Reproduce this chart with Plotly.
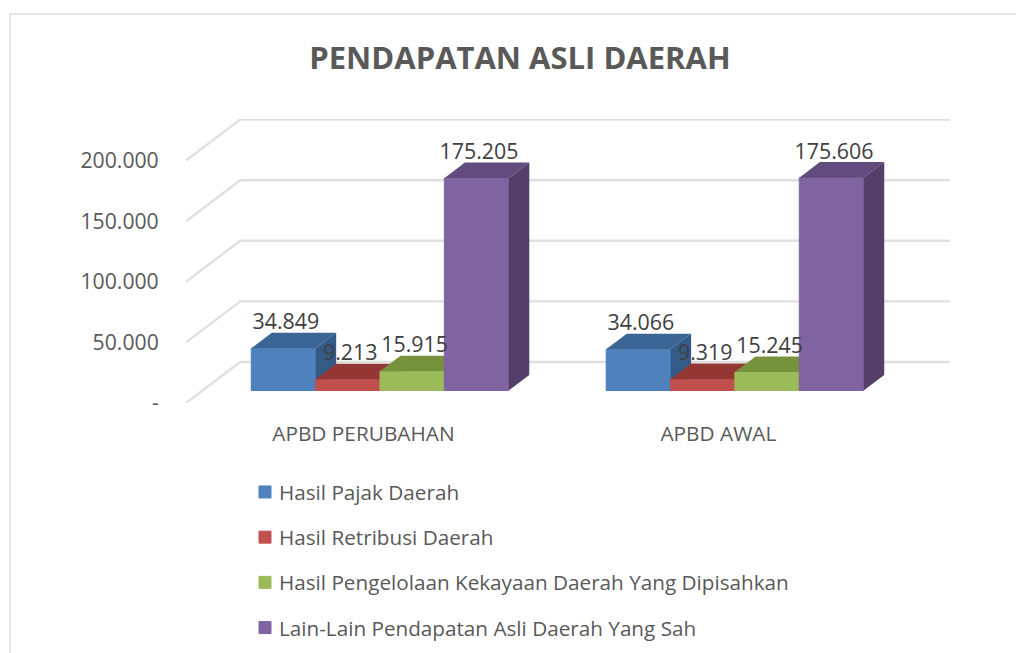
import plotly.graph_objects as go

TITLE = "PENDAPATAN ASLI DAERAH"
categories = ["APBD PERUBAHAN", "APBD AWAL"]
series_names = [
    "Hasil Pajak Daerah",
    "Hasil Retribusi Daerah",
    "Hasil Pengelolaan Kekayaan Daerah Yang Dipisahkan",
    "Lain-Lain Pendapatan Asli Daerah Yang Sah",
]
pajak = [34849, 34066]
retribusi = [9213, 9319]
kekayaan = [15915, 15245]
lain = [175205, 175606]
series_values = [pajak, retribusi, kekayaan, lain]

y_ticks = [0, 50000, 100000, 150000, 200000]
y_labels = ["-", "50.000", "100.000", "150.000", "200.000"]

front_colors = ["#4F81BD", "#C0504D", "#9BBB59", "#8064A2"]
top_colors = ["#3B6595", "#943634", "#76923C", "#624B7D"]
side_colors = ["#345A87", "#7F2E2C", "#66803A", "#533F6A"]

TEXT = "#595959"
LABEL = "#404040"
GRID = "#E0E0E0"
FONT = "Open Sans"

W, H = 1016, 653
L, R, T, B = 186, 950, 119, 403          # plot box in the page
CAT_PX = 354.0                            # pixels per category
VAL_PX = 1.212 / 1000.0                   # pixels per value unit
WALL_X = 54 / CAT_PX                      # floor depth in category units
WALL_Y = 41 / VAL_PX                      # floor depth in value units
x_range = [-0.5, 1.5 + WALL_X]
y_range = [0, (B - T) / VAL_PX]

BAR_W = 64.2 / CAT_PX
FRONT_FRAC = 0.305                        # where the bars' front sits on the floor
DEPTH_FRAC = 0.38                         # how deep the bars are
bx0 = WALL_X * FRONT_FRAC
by0 = WALL_Y * FRONT_FRAC
bdx = WALL_X * DEPTH_FRAC
bdy = WALL_Y * DEPTH_FRAC

fig = go.Figure()

# back wall and side wall gridlines
gx, gy = [], []
for v in y_ticks:
    gx += [x_range[0], x_range[0] + WALL_X, x_range[1], None]
    gy += [v, v + WALL_Y, v + WALL_Y, None]
fig.add_trace(go.Scatter(x=gx, y=gy, mode="lines", showlegend=False, hoverinfo="skip",
                         line=dict(color=GRID, width=2.4)))

# one overlaid axis pair per series so bars paint from left to right
for i, (name, vals) in enumerate(zip(series_names, series_values)):
    ax = str(i + 2)
    xa, ya = "x" + ax, "y" + ax
    centers = [c + bx0 + (i - 1.5) * BAR_W for c in range(len(categories))]
    for cx, v in zip(centers, vals):
        x0, x1 = cx - BAR_W / 2, cx + BAR_W / 2
        y0, y1 = by0, by0 + v
        fig.add_trace(go.Scatter(
            x=[x0, x0 + bdx, x1 + bdx, x1, x0],
            y=[y1, y1 + bdy, y1 + bdy, y1, y1],
            xaxis=xa, yaxis=ya, mode="lines", fill="toself", fillcolor=top_colors[i],
            line=dict(width=0), showlegend=False, hoverinfo="skip"))
        fig.add_trace(go.Scatter(
            x=[x1, x1 + bdx, x1 + bdx, x1, x1],
            y=[y1, y1 + bdy, y0 + bdy, y0, y1],
            xaxis=xa, yaxis=ya, mode="lines", fill="toself", fillcolor=side_colors[i],
            line=dict(width=0), showlegend=False, hoverinfo="skip"))
    fig.add_trace(go.Bar(
        x=centers, y=vals, base=[by0] * len(vals), width=[BAR_W] * len(vals), name=name,
        xaxis=xa, yaxis=ya, legendgroup=name,
        marker=dict(color=front_colors[i], line=dict(color=front_colors[i], width=1))))

# data labels, above everything
lx, ly, lt = [], [], []
for i, vals in enumerate(series_values):
    for c, v in enumerate(vals):
        lx.append(c + bx0 + (i - 1.5) * BAR_W + 2.5 / CAT_PX)
        ly.append(by0 + v + 24.5 / VAL_PX)
        lt.append(f"{v:,}".replace(",", "."))
fig.add_trace(go.Scatter(x=lx, y=ly, text=lt, mode="text", textposition="middle center",
                         textfont=dict(family=FONT, size=21.4, color=LABEL),
                         xaxis="x6", yaxis="y6", showlegend=False, hoverinfo="skip"))


def px(x):
    return (x - L) / (R - L)


def py(y):
    return (B - y) / (B - T)


frame = dict(type="line", xref="paper", yref="paper", line=dict(color="#DCDCDC", width=1.5))
layout = dict(
    width=W, height=H, paper_bgcolor="white", plot_bgcolor="white",
    margin=dict(l=L, r=W - R, t=T, b=H - B, pad=0, autoexpand=False),
    barmode="overlay", hovermode=False,
    font=dict(family=FONT, color=TEXT),
    title=dict(text=f"<b>{TITLE}</b>", x=520 / W, xanchor="center", y=1 - 58 / H, yanchor="middle",
               font=dict(family=FONT, size=31, color=TEXT)),
    xaxis=dict(range=x_range, tickmode="array", tickvals=list(range(len(categories))), ticktext=categories,
               showgrid=False, zeroline=False, showline=False, ticks="outside", ticklen=12,
               tickcolor="rgba(0,0,0,0)", tickfont=dict(family=FONT, size=20.8, color=TEXT)),
    yaxis=dict(range=y_range, tickmode="array", tickvals=y_ticks, ticktext=y_labels,
               showgrid=False, zeroline=False, showline=False, ticks="outside", ticklen=22,
               tickcolor="rgba(0,0,0,0)", tickfont=dict(family=FONT, size=21.2, color=TEXT)),
    legend=dict(x=px(239), y=py(472), xanchor="left", yanchor="top", tracegroupgap=15.3,
                font=dict(family=FONT, size=20.7, color=TEXT), bgcolor="rgba(0,0,0,0)"),
    shapes=[
        dict(frame, x0=px(10), x1=px(W), y0=py(14), y1=py(14)),
        dict(frame, x0=px(10), x1=px(10), y0=py(14), y1=py(H)),
    ],
)
for n in range(2, 7):
    layout[f"xaxis{n}"] = dict(overlaying="x", visible=False, range=x_range)
    layout[f"yaxis{n}"] = dict(overlaying="y", visible=False, range=y_range)
fig.update_layout(**layout)

fig.write_html(
    "out.html",
    config={"displayModeBar": False},
    post_script="document.body.style.margin='0';"
                "document.querySelectorAll('.legendsymbols').forEach(function(e){e.setAttribute('transform','translate(6,0)');});",
)
